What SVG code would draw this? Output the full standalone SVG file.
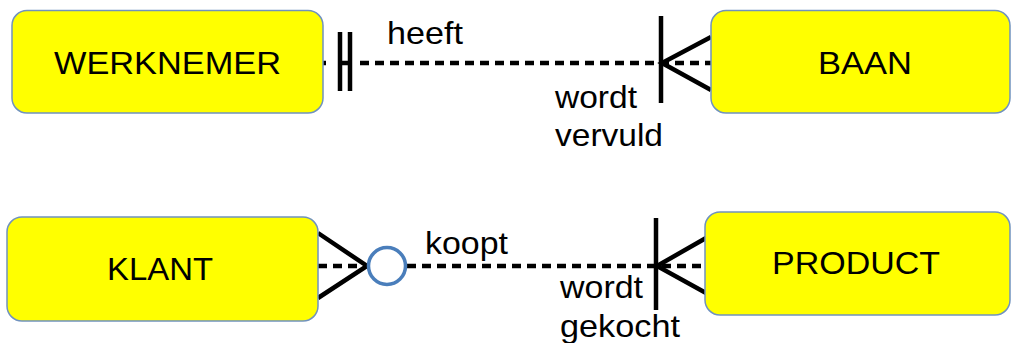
<svg xmlns="http://www.w3.org/2000/svg" width="1012" height="343" viewBox="0 0 1012 343">
<style>
.box{fill:#ffff00;stroke:#7092be;stroke-width:1.5}
.lbl{font-family:"Liberation Sans",Arial,sans-serif;fill:#000}
.big{font-size:31px}
.sm{font-size:32px}
.dash{stroke:#000;stroke-width:4.5;stroke-dasharray:9 6;fill:none}
.solid{stroke:#000;stroke-width:4.5;fill:none}
</style>
<rect width="1012" height="343" fill="#fff"/>
<g id="connectors">
  <line class="dash" x1="318" y1="63" x2="326" y2="63"/>
  <line class="solid" x1="340" y1="63" x2="350" y2="63"/>
  <line class="dash" x1="360" y1="63" x2="711" y2="63"/>
  <line class="solid" x1="340" y1="32" x2="340" y2="91"/>
  <line class="solid" x1="350" y1="32" x2="350" y2="91"/>
  <line class="solid" x1="661" y1="16" x2="661" y2="103"/>
  <polyline class="solid" points="711,37 662,63 711,90"/>
  <line class="dash" x1="318" y1="266" x2="368" y2="266"/>
  <line class="dash" x1="407" y1="266" x2="706" y2="266"/>
  <polyline class="solid" points="318,233 367,266 318,298"/>
  <circle cx="387" cy="266" r="18.5" fill="#fff" stroke="#4a7ebb" stroke-width="3.5"/>
  <line class="solid" x1="656" y1="218" x2="656" y2="310"/>
  <polyline class="solid" points="706,238 657,266 706,293"/>
  <text class="lbl sm" x="387" y="44" textLength="76" lengthAdjust="spacingAndGlyphs">heeft</text>
  <text class="lbl sm" x="555" y="108" textLength="82" lengthAdjust="spacingAndGlyphs">wordt</text>
  <text class="lbl sm" x="555" y="146" textLength="108" lengthAdjust="spacingAndGlyphs">vervuld</text>
  <text class="lbl sm" x="425" y="254" textLength="83" lengthAdjust="spacingAndGlyphs">koopt</text>
  <text class="lbl sm" x="560" y="298" textLength="83" lengthAdjust="spacingAndGlyphs">wordt</text>
  <text class="lbl sm" x="560" y="337" textLength="120" lengthAdjust="spacingAndGlyphs">gekocht</text>
</g>
<g id="werknemer">
  <rect class="box" x="12" y="10.5" width="311" height="102.5" rx="15"/>
  <text class="lbl big" x="54" y="73.5" textLength="227" lengthAdjust="spacingAndGlyphs">WERKNEMER</text>
</g>
<g id="baan">
  <rect class="box" x="711" y="10.5" width="299" height="102.5" rx="15"/>
  <text class="lbl big" x="818" y="73.5" textLength="94" lengthAdjust="spacingAndGlyphs">BAAN</text>
</g>
<g id="klant">
  <rect class="box" x="7" y="217" width="311" height="104" rx="15"/>
  <text class="lbl big" x="107" y="280" textLength="106" lengthAdjust="spacingAndGlyphs">KLANT</text>
</g>
<g id="product">
  <rect class="box" x="705" y="212" width="305" height="103" rx="15"/>
  <text class="lbl big" x="772" y="274" textLength="168" lengthAdjust="spacingAndGlyphs">PRODUCT</text>
</g>
</svg>
